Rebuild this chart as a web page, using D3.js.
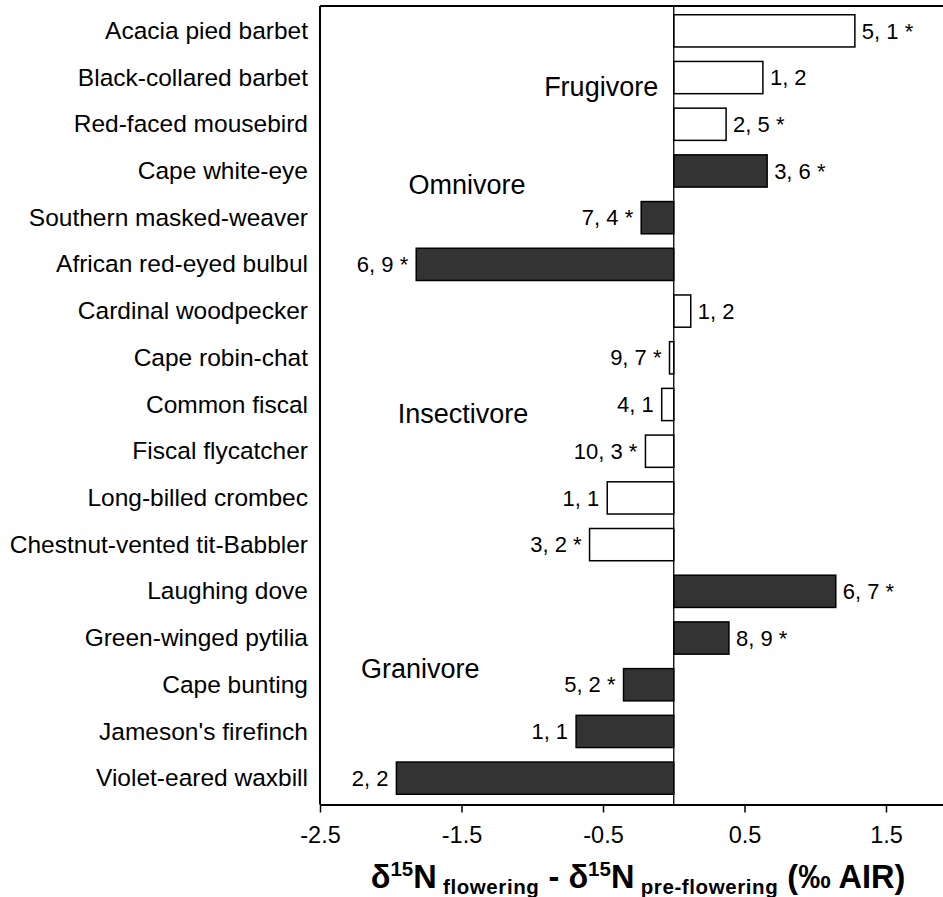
<!DOCTYPE html>
<html>
<head>
<meta charset="utf-8">
<script src="https://cdn.jsdelivr.net/npm/d3@7"></script>
<style>
  html, body { margin: 0; padding: 0; background: #fff; }
  svg { display: block; font-family: "Liberation Sans", Arial, sans-serif; }
</style>
</head>
<body>
<svg id="chart" width="943" height="897"></svg>
<script>
// Bird species, top to bottom
const species = [
  "Acacia pied barbet", "Black-collared barbet", "Red-faced mousebird",
  "Cape white-eye", "Southern masked-weaver", "African red-eyed bulbul",
  "Cardinal woodpecker", "Cape robin-chat", "Common fiscal",
  "Fiscal flycatcher", "Long-billed crombec", "Chestnut-vented tit-Babbler",
  "Laughing dove", "Green-winged pytilia", "Cape bunting",
  "Jameson's firefinch", "Violet-eared waxbill"
];

// Feeding guild of each species
const guilds = [
  "Frugivore", "Frugivore", "Frugivore",
  "Omnivore", "Omnivore", "Omnivore",
  "Insectivore", "Insectivore", "Insectivore",
  "Insectivore", "Insectivore", "Insectivore",
  "Granivore", "Granivore", "Granivore",
  "Granivore", "Granivore"
];

// Difference in δ15N (flowering minus pre-flowering), ‰
const deltaN = [
  1.28, 0.63, 0.37,
  0.66, -0.23, -1.82,
  0.12, -0.03, -0.085,
  -0.20, -0.47, -0.595,
  1.145, 0.39, -0.355,
  -0.69, -1.96
];

// Sample sizes (pre-flowering, flowering) and significance marker
const sampleLabels = [
  "5, 1 *", "1, 2", "2, 5 *",
  "3, 6 *", "7, 4 *", "6, 9 *",
  "1, 2", "9, 7 *", "4, 1",
  "10, 3 *", "1, 1", "3, 2 *",
  "6, 7 *", "8, 9 *", "5, 2 *",
  "1, 1", "2, 2"
];

const xTicks = [-2.5, -1.5, -0.5, 0.5, 1.5];
const guildNames = ["Frugivore", "Omnivore", "Insectivore", "Granivore"];

// Guild fills: open bars and dark bars
const guildFill = d3.scaleOrdinal()
  .domain(guildNames)
  .range(["#ffffff", "#333333", "#ffffff", "#333333"]);

// Where each guild name sits: x in data units, y as a fractional row index
const guildLabelPos = {
  Frugivore:   { x: -0.11, row: 1.2,  anchor: "end" },
  Omnivore:    { x: -1.875, row: 3.3, anchor: "start" },
  Insectivore: { x: -1.95, row: 8.2,  anchor: "start" },
  Granivore:   { x: -2.21, row: 13.65, anchor: "start" }
};

const svg = d3.select("#chart");
const plotLeft = 320, plotTop = 6, plotBottom = 804.5;

const x = d3.scaleLinear().domain([-2.5, 2.0]).range([plotLeft, plotLeft + 4.5 * 141.5]);
const y = d3.scaleBand().domain(species).range([7.5, 801.5]).paddingInner(0.31).paddingOuter(0.155);

const data = species.map((s, i) => ({
  name: s, guild: guilds[i], value: deltaN[i], label: sampleLabels[i]
}));

// Frame: top border and left axis line
svg.append("line").attr("x1", plotLeft).attr("x2", 960).attr("y1", plotTop).attr("y2", plotTop)
  .attr("stroke", "#000").attr("stroke-width", 2);
svg.append("line").attr("x1", plotLeft).attr("x2", plotLeft).attr("y1", plotTop).attr("y2", plotBottom)
  .attr("stroke", "#000").attr("stroke-width", 2);

// Bars
svg.append("g").selectAll("rect").data(data).join("rect")
  .attr("x", d => x(Math.min(0, d.value)))
  .attr("width", d => Math.abs(x(d.value) - x(0)))
  .attr("y", d => y(d.name))
  .attr("height", y.bandwidth())
  .attr("fill", d => guildFill(d.guild))
  .attr("stroke", "#000")
  .attr("stroke-width", 1.5);

// Zero line
svg.append("line").attr("x1", x(0)).attr("x2", x(0)).attr("y1", plotTop).attr("y2", plotBottom)
  .attr("stroke", "#000").attr("stroke-width", 1.3);

// Sample-size labels beside bar ends
svg.append("g").selectAll("text").data(data).join("text")
  .attr("x", d => d.value >= 0 ? x(d.value) + 7 : x(d.value) - 8)
  .attr("y", d => y(d.name) + y.bandwidth() / 2)
  .attr("dy", "0.35em")
  .attr("text-anchor", d => d.value >= 0 ? "start" : "end")
  .attr("font-size", 22)
  .attr("fill", "#000")
  .text(d => d.label);

// Species names
svg.append("g").selectAll("text").data(data).join("text")
  .attr("x", 308)
  .attr("y", d => y(d.name) + y.bandwidth() / 2)
  .attr("dy", "0.33em")
  .attr("text-anchor", "end")
  .attr("font-size", 24.5)
  .attr("fill", "#000")
  .text(d => d.name);

// Guild names
svg.append("g").selectAll("text").data(guildNames).join("text")
  .attr("x", g => x(guildLabelPos[g].x))
  .attr("y", g => y.range()[0] + y.step() * y.paddingOuter() + y.step() * guildLabelPos[g].row + y.bandwidth() / 2)
  .attr("dy", "0.35em")
  .attr("text-anchor", g => guildLabelPos[g].anchor)
  .attr("font-size", 27)
  .attr("fill", "#000")
  .text(g => g);

// Bottom axis
const xAxis = d3.axisBottom(x)
  .tickValues(xTicks)
  .tickSize(8)
  .tickSizeOuter(0)
  .tickPadding(14)
  .tickFormat(d => d3.format(".1f")(d).replace("\u2212", "-"));

const ax = svg.append("g").attr("transform", `translate(0,${plotBottom})`).call(xAxis);
ax.select(".domain").attr("stroke-width", 2);
ax.selectAll(".tick line").attr("stroke-width", 1.5);
ax.selectAll(".tick text").attr("font-size", 23.5).attr("fill", "#000")
  .attr("font-family", "'Liberation Sans', Arial, sans-serif");

// Axis title with superscripts and subscripts
const title = svg.append("text")
  .attr("x", 638).attr("y", 888)
  .attr("text-anchor", "middle")
  .attr("font-weight", "bold")
  .attr("font-size", 32.5)
  .attr("fill", "#000");
title.append("tspan").text("δ");
title.append("tspan").attr("font-size", 20.5).attr("dy", -12).text("15");
title.append("tspan").attr("dy", 12).text("N");
title.append("tspan").attr("font-size", 20.5).attr("dy", 6).attr("letter-spacing", 0.6).text(" flowering");
title.append("tspan").attr("dy", -6).attr("letter-spacing", 0).text(" - δ");
title.append("tspan").attr("font-size", 20.5).attr("dy", -12).text("15");
title.append("tspan").attr("dy", 12).text("N");
title.append("tspan").attr("font-size", 20.5).attr("dy", 6).attr("letter-spacing", 0.6).text(" pre-flowering");
title.append("tspan").attr("dy", -6).attr("letter-spacing", 0).text(" (‰ AIR)");
</script>
</body>
</html>
